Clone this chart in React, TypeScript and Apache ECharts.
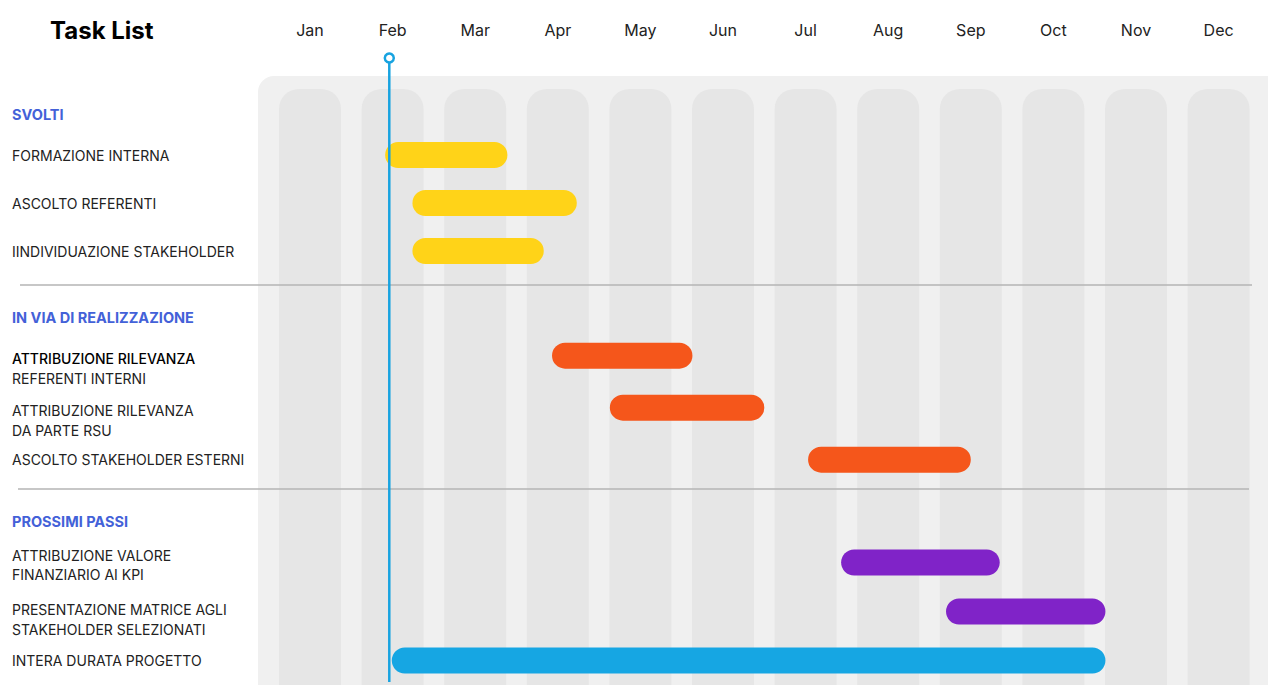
import React, { useEffect, useRef } from "react";
import * as echarts from "echarts";

const months = ["Jan", "Feb", "Mar", "Apr", "May", "Jun", "Jul", "Aug", "Sep", "Oct", "Nov", "Dec"];
const sections = ["SVOLTI", "IN VIA DI REALIZZAZIONE", "PROSSIMI PASSI"];
const tasks = [
  "FORMAZIONE INTERNA",
  "ASCOLTO REFERENTI",
  "IINDIVIDUAZIONE STAKEHOLDER",
  "ATTRIBUZIONE RILEVANZA\nREFERENTI INTERNI",
  "ATTRIBUZIONE RILEVANZA\nDA PARTE RSU",
  "ASCOLTO STAKEHOLDER ESTERNI",
  "ATTRIBUZIONE VALORE\nFINANZIARIO AI KPI",
  "PRESENTAZIONE MATRICE AGLI\nSTAKEHOLDER SELEZIONATI",
  "INTERA DURATA PROGETTO",
];
const taskSection = [0, 0, 0, 1, 1, 1, 2, 2, 2];
const taskKind = ["done", "done", "done", "ongoing", "ongoing", "ongoing", "next", "next", "project"];
// months measured from start of January (0) to end of December (12)
const taskStart = [1.41, 1.74, 1.74, 3.43, 4.13, 6.53, 6.93, 8.2, 1.49];
const taskEnd = [2.89, 3.73, 3.33, 5.13, 6.0, 8.5, 8.85, 10.13, 10.13];
const todayValue = 1.46;

const kindColor: Record<string, string> = {
  done: "#FFD318",
  ongoing: "#F5561B",
  next: "#8023C8",
  project: "#16A6E3",
};
const FONT = "Inter, 'Noto Sans', sans-serif";
const GL = 268.7;
const GR = 8.1;
const gridBoxes = [
  { top: 131, height: 144, header: 114 },
  { top: 329.67, height: 156, header: 317 },
  { top: 538.05, height: 148.5, header: 521 },
];
const firstLineHeight: Record<number, number> = { 3: 44.7, 4: 44.7, 6: 24.4, 7: 35.4 };

export default function App() {
  const ref = useRef<HTMLDivElement>(null);
  useEffect(() => {
    if (!ref.current) return;
    const chart = echarts.init(ref.current, null, { renderer: "svg" });

    const grids: any[] = [
      { left: GL, right: GR, top: 89, bottom: 0 },
      ...gridBoxes.map((b) => ({ left: GL, right: GR, top: b.top, height: b.height })),
      { left: GL, right: GR, top: 58, bottom: 3 },
    ];

    const xAxes: any[] = [
      {
        gridIndex: 0,
        type: "category",
        data: months,
        position: "top",
        axisLine: { show: false },
        axisTick: { show: false },
        axisLabel: { margin: 51, fontSize: 16, color: "#222", fontFamily: FONT },
      },
    ];
    const yAxes: any[] = [
      { gridIndex: 0, type: "value", min: 0, max: 1, show: false },
    ];

    const rich: any = {
      t: { fontFamily: FONT, fontSize: 14, color: "#222" },
      s: { fontFamily: FONT, fontSize: 14, color: "#222", lineHeight: 25 },
    };
    Object.keys(firstLineHeight).forEach((k) => {
      const i = Number(k);
      rich["f" + i] = {
        fontFamily: FONT,
        fontSize: 14,
        color: i === 3 ? "#000" : "#222",
        fontWeight: i === 3 ? 500 : "normal",
        lineHeight: firstLineHeight[i],
        verticalAlign: "bottom",
      };
    });

    const series: any[] = [
      {
        type: "bar",
        xAxisIndex: 0,
        yAxisIndex: 0,
        data: months.map(() => 1),
        barWidth: 62,
        silent: true,
        itemStyle: { color: "#E6E6E6", borderRadius: [20, 20, 0, 0] },
        z: 1,
      },
    ];

    const headerTexts: any[] = [];
    sections.forEach((sec, s) => {
      const g = s + 1;
      const idx = tasks.map((_, i) => i).filter((i) => taskSection[i] === s);
      const rows = idx.map((i) => tasks[i]);
      headerTexts.push({
        type: "text",
        x: 12,
        y: gridBoxes[s].header,
        z: 5,
        silent: true,
        style: {
          text: sec,
          fontFamily: FONT,
          fontSize: 14.5,
          fontWeight: "bold",
          fill: "#4361D8",
          verticalAlign: "middle",
        },
      });
      xAxes.push({ gridIndex: g, type: "value", min: 0, max: 12, show: false });
      yAxes.push({
        gridIndex: g,
        type: "category",
        inverse: true,
        data: rows,
        axisLine: { show: false },
        axisTick: { show: false },
        splitLine: { show: false },
        axisLabel: {
          align: "left",
          margin: GL - 12,
          fontFamily: FONT,
          fontSize: 14,
          color: "#222",
          formatter: (value: string) => {
            const ti = tasks.indexOf(value);
            const lines = value.split("\n");
            if (lines.length === 1) return `{t|${value}}`;
            return `{f${ti}|${lines[0]}}\n{s|${lines[1]}}`;
          },
          rich,
        },
      });
      series.push({
        type: "bar",
        xAxisIndex: g,
        yAxisIndex: g,
        stack: "s" + g,
        silent: true,
        barWidth: 26,
        itemStyle: { color: "transparent" },
        data: idx.map((i) => taskStart[i]),
        z: 4,
      });
      series.push({
        type: "bar",
        xAxisIndex: g,
        yAxisIndex: g,
        stack: "s" + g,
        barWidth: 26,
        itemStyle: { borderRadius: 13 },
        data: idx.map((i) => ({
          value: +(taskEnd[i] - taskStart[i]).toFixed(3),
          itemStyle: { color: kindColor[taskKind[i]], borderRadius: 13 },
        })),
        z: 4,
      });
    });

    xAxes.push({ gridIndex: 4, type: "value", min: 0, max: 12, show: false });
    yAxes.push({ gridIndex: 4, type: "value", min: 0, max: 1, show: false });
    series.push({
      type: "line",
      xAxisIndex: 4,
      yAxisIndex: 4,
      clip: false,
      silent: true,
      z: 10,
      symbolSize: 9,
      lineStyle: { color: "#17A3E0", width: 2.5 },
      itemStyle: { color: "#fff", borderColor: "#17A3E0", borderWidth: 2.5 },
      data: [
        { value: [todayValue, 1], symbol: "circle" },
        { value: [todayValue, 0], symbol: "none" },
      ],
    });

    chart.setOption({
      animation: false,
      backgroundColor: "#fff",
      grid: grids,
      xAxis: xAxes,
      yAxis: yAxes,
      series,
      graphic: [
        {
          type: "rect",
          z: 0,
          shape: { x: 258, y: 76, width: 1040, height: 700, r: 16 },
          style: { fill: "#F0F0F0" },
          silent: true,
        },
        {
          type: "line",
          z: 3,
          shape: { x1: 20, y1: 285, x2: 1252, y2: 285 },
          style: { stroke: "#B4B4B4", lineWidth: 1.5 },
          silent: true,
        },
        {
          type: "line",
          z: 3,
          shape: { x1: 18, y1: 489, x2: 1249, y2: 489 },
          style: { stroke: "#B4B4B4", lineWidth: 1.5 },
          silent: true,
        },
        ...headerTexts,
        {
          type: "text",
          x: 50,
          y: 30,
          z: 5,
          style: {
            text: "Task List",
            fontFamily: FONT,
            fontSize: 24,
            fontWeight: "bold",
            fill: "#000",
            verticalAlign: "middle",
          },
        },
      ],
    });
    return () => chart.dispose();
  }, []);
  return (
    <div
      ref={ref}
      style={{ position: "fixed", left: 0, top: 0, width: 1268, height: 685, background: "#fff" }}
    />
  );
}
